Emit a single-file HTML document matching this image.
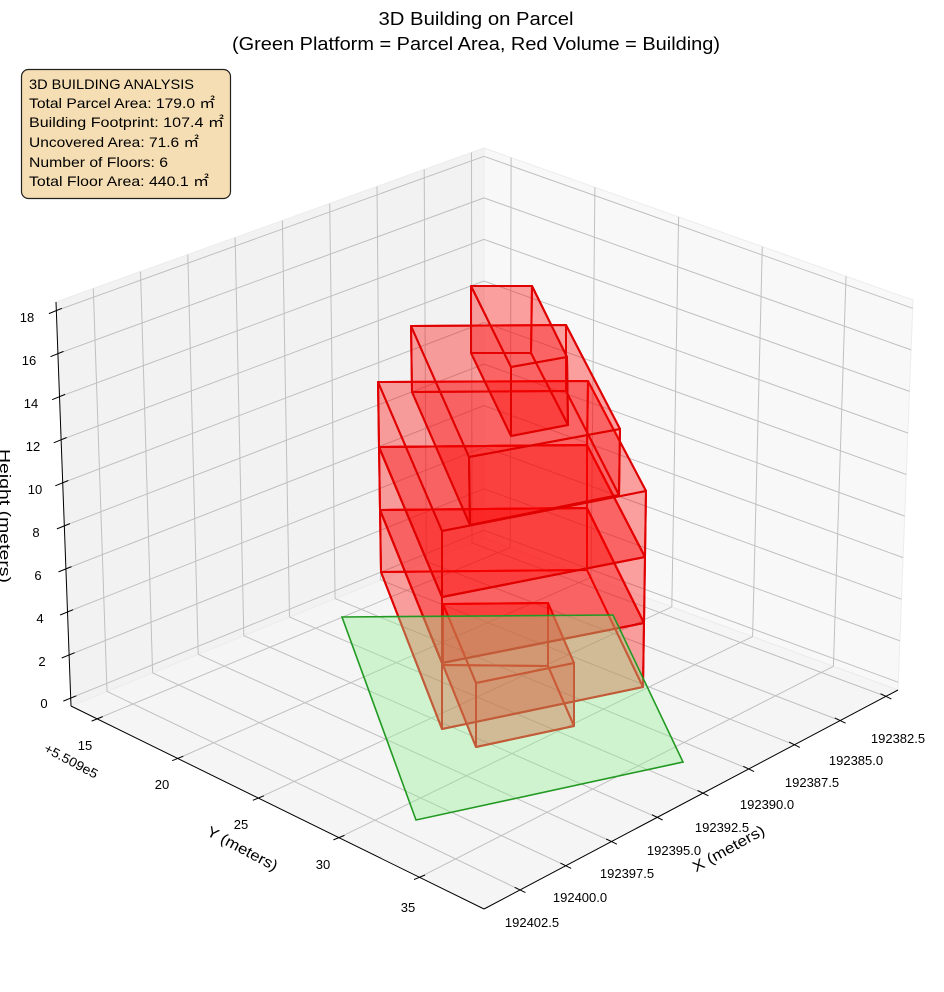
<!DOCTYPE html>
<html><head><meta charset="utf-8"><style>
html,body{margin:0;padding:0;background:#fff;}
svg{display:block;font-family:"Liberation Sans","Noto Sans CJK SC",sans-serif;}
</style></head><body>
<svg id="s" width="944" height="992" viewBox="0 0 944 992" xmlns="http://www.w3.org/2000/svg">
<g id="panes"></g>
<g id="grid" stroke="#c0c0c0" stroke-width="1" fill="none"></g>
<g id="axes" stroke="#000" stroke-width="1" fill="none"></g>

<g id="bld" fill="rgba(255,0,0,0.2)" stroke="#e00000" stroke-width="2" stroke-linejoin="round"></g>

<polygon points="342,617 613,615 683,762 416,820" fill="rgba(144,238,144,0.38)" stroke="#229922" stroke-width="1.6"/>

<g font-size="13" fill="#000" text-anchor="middle">
<text x="898" y="743">192382.5</text>
<text x="856" y="765">192385.0</text>
<text x="812" y="787">192387.5</text>
<text x="767" y="809">192390.0</text>
<text x="722" y="832">192392.5</text>
<text x="674" y="855">192395.0</text>
<text x="627" y="878">192397.5</text>
<text x="580" y="902">192400.0</text>
<text x="532" y="927">192402.5</text>
<text x="85" y="750">15</text>
<text x="162" y="789">20</text>
<text x="241" y="829">25</text>
<text x="323" y="869">30</text>
<text x="408" y="912">35</text>
<text x="44" y="708">0</text>
<text x="42" y="666">2</text>
<text x="40" y="623">4</text>
<text x="38" y="580">6</text>
<text x="36" y="537">8</text>
<text x="35" y="494">10</text>
<text x="33" y="451">12</text>
<text x="31" y="408">14</text>
<text x="29" y="365">16</text>
<text x="27" y="322">18</text>
</g>
<text x="0" y="0" font-size="13" text-anchor="middle" transform="translate(69,765) rotate(28)" textLength="59" lengthAdjust="spacingAndGlyphs">+5.509e5</text>
<text x="0" y="0" font-size="15" text-anchor="middle" transform="translate(240,853) rotate(28)" textLength="78" lengthAdjust="spacingAndGlyphs">Y (meters)</text>
<text x="0" y="0" font-size="15" text-anchor="middle" transform="translate(731,853) rotate(-29)" textLength="80" lengthAdjust="spacingAndGlyphs">X (meters)</text>
<text x="0" y="0" font-size="15" text-anchor="middle" transform="translate(0,516) rotate(90)" textLength="134" lengthAdjust="spacingAndGlyphs">Height (meters)</text>

<text x="476" y="25" font-size="18" text-anchor="middle" textLength="195" lengthAdjust="spacingAndGlyphs">3D Building on Parcel</text>
<text x="476" y="50" font-size="18" text-anchor="middle" textLength="488" lengthAdjust="spacingAndGlyphs">(Green Platform = Parcel Area, Red Volume = Building)</text>

<rect x="21.5" y="69.5" width="209" height="129" rx="7" fill="#f5deb3" stroke="#222" stroke-width="1.2"/>
<g font-size="14" fill="#000">
<text x="29" y="89" textLength="165" lengthAdjust="spacingAndGlyphs">3D BUILDING ANALYSIS</text>
<text x="29" y="108" textLength="186" lengthAdjust="spacingAndGlyphs">Total Parcel Area: 179.0 ㎡</text>
<text x="29" y="127" textLength="195" lengthAdjust="spacingAndGlyphs">Building Footprint: 107.4 ㎡</text>
<text x="29" y="147" textLength="170" lengthAdjust="spacingAndGlyphs">Uncovered Area: 71.6 ㎡</text>
<text x="29" y="167" textLength="139" lengthAdjust="spacingAndGlyphs">Number of Floors: 6</text>
<text x="29" y="186" textLength="180" lengthAdjust="spacingAndGlyphs">Total Floor Area: 440.1 ㎡</text>
</g>
</svg>
<script>
(function(){
var NS="http://www.w3.org/2000/svg";
var F0=[484,909],R0=[898,690],L0=[71,706],B0=[484,538];
var xmin=192381.84,xmax=192404.47,ymin=13.38,ymax=39.0,zmin=-0.37,zmax=18.4;
function P(x,y,z){
 var u=(xmax-x)/(xmax-xmin),v=(ymax-y)/(ymax-ymin),t=(z-zmin)/(zmax-zmin);
 function b(a,c,d,e){return (1-u)*(1-v)*a+u*(1-v)*c+(1-u)*v*d+u*v*e;}
 var fx=b(F0[0],R0[0],L0[0],B0[0]),fy=b(F0[1],R0[1],L0[1],B0[1]);
 var H=b(404,390,404,390),dx=b(0,15,-15,0);
 return [fx+t*dx,fy-t*H];
}
function el(parent,tag,attrs){var e=document.createElementNS(NS,tag);for(var k in attrs)e.setAttribute(k,attrs[k]);document.getElementById(parent).appendChild(e);return e;}
function poly(parent,pts,attrs){attrs=attrs||{};attrs.points=pts.map(function(p){return p[0].toFixed(1)+","+p[1].toFixed(1);}).join(" ");return el(parent,"polygon",attrs);}
function line(parent,a,b,attrs){attrs=attrs||{};attrs.x1=a[0].toFixed(1);attrs.y1=a[1].toFixed(1);attrs.x2=b[0].toFixed(1);attrs.y2=b[1].toFixed(1);return el(parent,"line",attrs);}
poly("panes",[P(xmax,ymax,zmin),P(xmin,ymax,zmin),P(xmin,ymin,zmin),P(xmax,ymin,zmin)],{fill:"#f5f5f5",stroke:"#ececec"});
poly("panes",[P(xmax,ymin,zmin),P(xmin,ymin,zmin),P(xmin,ymin,zmax),P(xmax,ymin,zmax)],{fill:"#f2f2f2",stroke:"#ececec"});
poly("panes",[P(xmin,ymin,zmin),P(xmin,ymax,zmin),P(xmin,ymax,zmax),P(xmin,ymin,zmax)],{fill:"#f8f8f8",stroke:"#ececec"});
var xt=[],yt=[15,20,25,30,35],zt=[];
for(var i=0;i<9;i++)xt.push(192382.5+2.5*i);
for(var i=0;i<10;i++)zt.push(2*i);
xt.forEach(function(x){line("grid",P(x,ymax,zmin),P(x,ymin,zmin));line("grid",P(x,ymin,zmin),P(x,ymin,zmax));});
yt.forEach(function(y){line("grid",P(xmax,y,zmin),P(xmin,y,zmin));line("grid",P(xmin,y,zmin),P(xmin,y,zmax));});
zt.forEach(function(z){line("grid",P(xmax,ymin,z),P(xmin,ymin,z));line("grid",P(xmin,ymin,z),P(xmin,ymax,z));});
line("axes",P(xmax,ymin,zmin),P(xmax,ymin,zmax));
line("axes",P(xmax,ymin,zmin),P(xmax,ymax,zmin));
line("axes",P(xmax,ymax,zmin),P(xmin,ymax,zmin));
function norm(a,b){var d=[b[0]-a[0],b[1]-a[1]],l=Math.hypot(d[0],d[1]);return [d[0]/l,d[1]/l];}
var du=norm(L0,B0),dv=norm(F0,L0);
zt.forEach(function(z){var p=P(xmax,ymin,z);line("axes",[p[0]-8*du[0],p[1]-8*du[1]],[p[0]+6*du[0],p[1]+6*du[1]]);});
yt.forEach(function(y){var p=P(xmax,y,zmin);line("axes",[p[0]-6*du[0],p[1]-6*du[1]],[p[0]+6*du[0],p[1]+6*du[1]]);});
xt.forEach(function(x){var p=P(x,ymax,zmin);line("axes",[p[0]-6*dv[0],p[1]-6*dv[1]],[p[0]+6*dv[0],p[1]+6*dv[1]]);});
var boxes=[
 [[[443,604],[548,603],[574,663],[476,683]],[[443,665],[548,666],[574,726],[476,747]]],
 [[[380,510],[587,508],[644,623],[442,663]],[[381,572],[587,570],[643,687],[442,729]]],
 [[[379,447],[587,445],[645,557],[442,597]],[[380,510],[587,508],[644,623],[442,663]]],
 [[[378,382],[588,381],[646,491],[442,531]],[[379,447],[587,445],[645,557],[442,597]]],
 [[[411,326],[566,325],[620,429],[469,457]],[[412,392],[566,391],[619,495],[470,525]]],
 [[[471,286],[532,286],[567,357],[511,367]],[[471,353],[531,353],[568,425],[511,436]]]
];
boxes.forEach(function(bx){
 var T=bx[0],B=bx[1];
 poly("bld",B);
 for(var i=0;i<4;i++){var j=(i+1)%4;poly("bld",[T[i],T[j],B[j],B[i]]);}
 poly("bld",T);
});
})();
</script>
</body></html>
